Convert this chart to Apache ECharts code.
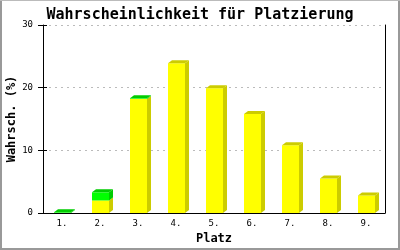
<!DOCTYPE html>
<html><head><meta charset="utf-8">
<script src="https://cdn.jsdelivr.net/npm/echarts@6/dist/echarts.min.js"></script>
<style>html,body{margin:0;padding:0;background:#fff}#c{width:400px;height:250px}</style>
</head><body><div id="c"></div>
<script>
const categories = ['1.', '2.', '3.', '4.', '5.', '6.', '7.', '8.', '9.'];
const yellowValues = [0, 2.0, 18.2, 23.9, 19.9, 15.8, 10.8, 5.5, 2.8];
const greenValues = [0.1, 1.3, 0.1, 0, 0, 0, 0, 0, 0];
const yTicks = [0, 10, 20, 30];

const FONT = 'DejaVu Sans Mono';
const chart = echarts.init(document.getElementById('c'), null, {renderer: 'canvas'});
const data = categories.map((c, i) => [i, yellowValues[i], greenValues[i]]);

function renderItem(params, api) {
  const i = api.value(0), yv = api.value(1), gv = api.value(2);
  const base = api.coord([i, 0]);
  const cw = api.size([1, 0])[0];
  const w = Math.round(cw * 0.45);
  const x = Math.round(base[0] - w / 2);
  const b = base[1];
  const yTop = api.coord([i, yv])[1];
  const gTop = api.coord([i, yv + gv])[1];
  const dx = 4, dy = 3;
  const children = [];
  function seg(y0, y1, front, side) {
    if (y0 - y1 <= 0) return;
    children.push({type: 'polygon', shape: {points: [[x + w, y1], [x + w + dx, y1 - dy], [x + w + dx, y0 - dy], [x + w, y0]]}, style: {fill: side}});
    children.push({type: 'rect', shape: {x: x, y: y1, width: w, height: y0 - y1}, style: {fill: front}});
  }
  seg(b, yTop, '#ffff00', '#cccc00');
  seg(yTop, gTop, '#00ff00', '#00cc00');
  const topColor = gv > 0 ? '#00cc00' : '#cccc00';
  children.push({type: 'polygon', shape: {points: [[x, gTop], [x + dx, gTop - dy], [x + w + dx, gTop - dy], [x + w, gTop]]}, style: {fill: topColor}});
  return {type: 'group', children: children};
}

chart.setOption({
  animation: false,
  backgroundColor: '#fff',
  title: {
    text: 'Wahrscheinlichkeit für Platzierung',
    left: 'center', top: 3,
    textStyle: {fontFamily: FONT, fontWeight: 'bold', fontSize: 15, color: '#000'}
  },
  grid: {left: 43, right: 15, top: 25, bottom: 37, containLabel: false, outerBoundsMode: 'none'},
  xAxis: {
    type: 'category', data: categories,
    name: 'Platz', nameLocation: 'middle', nameGap: 20, nameMoveOverlap: false,
    nameTextStyle: {fontFamily: FONT, fontWeight: 'bold', fontSize: 12, color: '#000'},
    axisLine: {lineStyle: {color: '#000', width: 1}},
    axisTick: {show: false},
    axisLabel: {fontFamily: FONT, fontSize: 9, color: '#000', margin: 6}
  },
  yAxis: [
    {
      type: 'value', min: 0, max: 30, interval: 10, position: 'left',
      name: 'Wahrsch. (%)', nameLocation: 'middle', nameGap: 25, nameRotate: 90, nameMoveOverlap: false,
      nameTextStyle: {fontFamily: FONT, fontWeight: 'bold', fontSize: 12, color: '#000'},
      axisLine: {show: true, lineStyle: {color: '#000'}},
      axisTick: {show: true, length: 5, lineStyle: {color: '#000'}},
      axisLabel: {fontFamily: FONT, fontSize: 9, color: '#000', margin: 10,
        formatter: v => yTicks.includes(v) ? String(v) : ''},
      splitLine: {show: true, lineStyle: {color: '#bbbbbb', type: [2, 4]}}
    },
    {
      type: 'value', min: 0, max: 30, interval: 10, position: 'left', offset: 0,
      axisLine: {show: false},
      axisTick: {show: true, inside: true, length: 4, lineStyle: {color: '#000'}},
      axisLabel: {show: false}, splitLine: {show: false}
    },
    {
      type: 'value', min: 0, max: 30, interval: 10, position: 'right',
      axisLine: {show: true, lineStyle: {color: '#000'}},
      axisTick: {show: false}, axisLabel: {show: false}, splitLine: {show: false}
    }
  ],
  series: [{
    type: 'custom', renderItem: renderItem, data: data,
    encode: {x: 0, y: [1, 2]}, clip: false
  }],
  graphic: [
    {type: 'rect', shape: {x: 0, y: 0, width: 2, height: 250}, style: {fill: '#999'}, silent: true},
    {type: 'rect', shape: {x: 398, y: 0, width: 2, height: 250}, style: {fill: '#999'}, silent: true},
    {type: 'rect', shape: {x: 0, y: 248, width: 400, height: 2}, style: {fill: '#999'}, silent: true},
    {type: 'rect', shape: {x: 0, y: 0, width: 400, height: 1}, style: {fill: '#bbb'}, silent: true}
  ]
});
</script></body></html>
